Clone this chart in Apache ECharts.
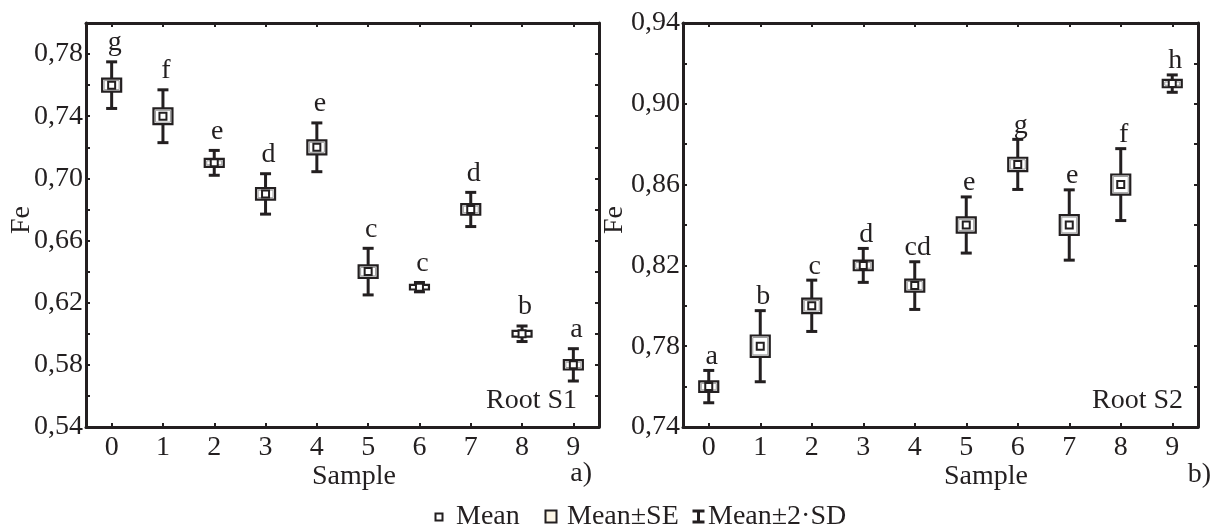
<!DOCTYPE html>
<html><head><meta charset="utf-8">
<script src="https://cdn.jsdelivr.net/npm/echarts@6/dist/echarts.min.js"></script>
<style>html,body{margin:0;padding:0;background:#fff}#c{width:1216px;height:528px}</style>
</head><body><div id="c"></div>
<script>
// ---------- data ----------
const samples = ['0','1','2','3','4','5','6','7','8','9'];

// Root S1 (panel a)
const s1Mean    = [0.760, 0.740, 0.710, 0.690, 0.720, 0.640, 0.630, 0.680, 0.600, 0.580];
const s1SE      = [0.0042, 0.0051, 0.0026, 0.0037, 0.0045, 0.0040, 0.0015, 0.0034, 0.0019, 0.0030];
const s1SD2     = [0.0150, 0.0170, 0.0080, 0.0130, 0.0157, 0.0150, 0.0030, 0.0110, 0.0050, 0.0104];
const s1Letters = ['g','f','e','d','e','c','c','d','b','a'];
const s1TickLabels = ['0,54','0,58','0,62','0,66','0,70','0,74','0,78'];

// Root S2 (panel b)
const s2Mean    = [0.760, 0.780, 0.800, 0.820, 0.810, 0.840, 0.870, 0.840, 0.860, 0.910];
const s2SE      = [0.0026, 0.0053, 0.0036, 0.0024, 0.0030, 0.0038, 0.0033, 0.0049, 0.0050, 0.0018];
const s2SD2     = [0.0080, 0.0176, 0.0127, 0.0084, 0.0118, 0.0139, 0.0124, 0.0174, 0.0178, 0.0043];
const s2Letters = ['a','b','c','d','cd','e','g','e','f','h'];
const s2TickLabels = ['0,74','0,78','0,82','0,86','0,90','0,94'];

// ---------- styling ----------
const C = '#231f20';
const FF = '"Liberation Serif", "Times New Roman", serif';
const FS = 28;

function yAxisPair(grid, min, max, tickLabels) {
  const fmt = v => { const s = v.toFixed(2).replace('.', ','); return tickLabels.includes(s) ? s : ''; };
  const common = {
    type: 'value', gridIndex: grid, min: min, max: max, interval: 0.02,
    axisLine: { show: true, lineStyle: { color: C, width: 3 } },
    axisTick: { show: true, inside: true, length: 4, lineStyle: { color: C, width: 2 } },
    splitLine: { show: false }
  };
  return [
    Object.assign({}, common, { position: 'left',
      axisLabel: { show: true, formatter: fmt, color: C, fontFamily: FF, fontSize: FS, margin: 3,
                   showMaxLabel: true, showMinLabel: true } }),
    Object.assign({}, common, { position: 'right', axisLabel: { show: false } })
  ];
}
function xAxisPair(grid) {
  const common = {
    type: 'category', gridIndex: grid, data: samples, boundaryGap: true,
    axisLine: { show: true, lineStyle: { color: C, width: 3 } },
    axisTick: { show: true, inside: true, alignWithLabel: true, length: 4, lineStyle: { color: C, width: 2 } },
    splitLine: { show: false }
  };
  return [
    Object.assign({}, common, { position: 'bottom',
      axisLabel: { show: true, color: C, fontFamily: FF, fontSize: FS, margin: 7 } }),
    Object.assign({}, common, { position: 'top', axisLabel: { show: false } })
  ];
}

function makeSeries(xi, yi, means, ses, sds, letters, labelOffset) {
  return {
    type: 'custom', xAxisIndex: xi, yAxisIndex: yi, clip: false,
    data: samples.map((s, i) => [i, means[i], ses[i], sds[i]]),
    renderItem: function (params, api) {
      const i = api.value(0), m = api.value(1), se = api.value(2), sd = api.value(3);
      const p = api.coord([i, m]);
      const x = p[0], ym = p[1];
      const yt = api.coord([i, m + sd])[1], yb = api.coord([i, m - sd])[1];
      const ys1 = api.coord([i, m + se])[1], ys2 = api.coord([i, m - se])[1];
      const bw = 19, cw = 11;
      const children = [
        { type: 'line', shape: { x1: x, y1: yt, x2: x, y2: yb }, style: { stroke: C, lineWidth: 3 } },
        { type: 'line', shape: { x1: x - cw / 2, y1: yt, x2: x + cw / 2, y2: yt }, style: { stroke: C, lineWidth: 3 } },
        { type: 'line', shape: { x1: x - cw / 2, y1: yb, x2: x + cw / 2, y2: yb }, style: { stroke: C, lineWidth: 3 } },
        { type: 'rect', shape: { x: x - bw / 2, y: ys1, width: bw, height: ys2 - ys1 }, style: { fill: '#fff', stroke: C, lineWidth: 2.2 } }
      ];
      if (ys2 - ys1 > 6) {
        children.push({ type: 'rect', shape: { x: x - bw / 2 + 2, y: ys1 + 2, width: bw - 4, height: ys2 - ys1 - 4 },
                        style: { fill: 'none', stroke: '#9a9a9a', lineWidth: 1 } });
      }
      children.push({ type: 'rect', shape: { x: x - 3.5, y: ym - 3.5, width: 7, height: 7 }, style: { fill: '#fff', stroke: C, lineWidth: 2 } });
      children.push({ type: 'text', x: x + 3, y: yt - labelOffset,
        style: { text: letters[params.dataIndex], fill: C, font: FS + 'px ' + FF, align: 'center', verticalAlign: 'bottom' } });
      return { type: 'group', children: children };
    }
  };
}

const textStyle = (t, extra) => Object.assign({ text: t, fill: C, font: FS + 'px ' + FF }, extra || {});

const chart = echarts.init(document.getElementById('c'), null, { renderer: 'canvas' });
const xa0 = xAxisPair(0), xa1 = xAxisPair(1);
const ya0 = yAxisPair(0, 0.54, 0.80, s1TickLabels), ya1 = yAxisPair(1, 0.74, 0.94, s2TickLabels);

chart.setOption({
  animation: false,
  backgroundColor: '#fff',
  grid: [
    { left: 86, width: 513, top: 23, height: 404 },
    { left: 683, width: 515, top: 23, height: 404 }
  ],
  xAxis: [xa0[0], xa0[1], xa1[0], xa1[1]],
  yAxis: [ya0[0], ya0[1], ya1[0], ya1[1]],
  series: [
    makeSeries(0, 0, s1Mean, s1SE, s1SD2, s1Letters, 5),
    makeSeries(2, 2, s2Mean, s2SE, s2SD2, s2Letters, 0)
  ],
  graphic: [
    { type: 'text', x: 22, y: 220, rotation: Math.PI / 2, style: textStyle('Fe', { align: 'center', verticalAlign: 'middle' }) },
    { type: 'text', x: 615, y: 220, rotation: Math.PI / 2, style: textStyle('Fe', { align: 'center', verticalAlign: 'middle' }) },
    { type: 'text', x: 354, y: 477, style: textStyle('Sample', { align: 'center', verticalAlign: 'middle' }) },
    { type: 'text', x: 986, y: 477, style: textStyle('Sample', { align: 'center', verticalAlign: 'middle' }) },
    { type: 'text', x: 592, y: 474, style: textStyle('a)', { align: 'right', verticalAlign: 'middle' }) },
    { type: 'text', x: 1211, y: 475, style: textStyle('b)', { align: 'right', verticalAlign: 'middle' }) },
    { type: 'text', x: 577, y: 401, style: textStyle('Root S1', { align: 'right', verticalAlign: 'middle' }) },
    { type: 'text', x: 1183, y: 401, style: textStyle('Root S2', { align: 'right', verticalAlign: 'middle' }) },
    // legend
    { type: 'rect', shape: { x: 435.5, y: 513.5, width: 7, height: 7 }, style: { fill: '#fff', stroke: C, lineWidth: 2 } },
    { type: 'text', x: 456, y: 517, style: textStyle('Mean', { align: 'left', verticalAlign: 'middle' }) },
    { type: 'rect', shape: { x: 545.5, y: 510.5, width: 11, height: 12 }, style: { fill: '#fdf6e6', stroke: C, lineWidth: 2 } },
    { type: 'text', x: 567, y: 517, style: textStyle('Mean±SE', { align: 'left', verticalAlign: 'middle' }) },
    { type: 'line', shape: { x1: 698.5, y1: 511, x2: 698.5, y2: 522 }, style: { stroke: C, lineWidth: 3 } },
    { type: 'line', shape: { x1: 692.5, y1: 511, x2: 704.5, y2: 511 }, style: { stroke: C, lineWidth: 3 } },
    { type: 'line', shape: { x1: 692.5, y1: 522, x2: 704.5, y2: 522 }, style: { stroke: C, lineWidth: 3 } },
    { type: 'text', x: 708, y: 517, style: textStyle('Mean±2·SD', { align: 'left', verticalAlign: 'middle' }) }
  ]
});
</script></body></html>
